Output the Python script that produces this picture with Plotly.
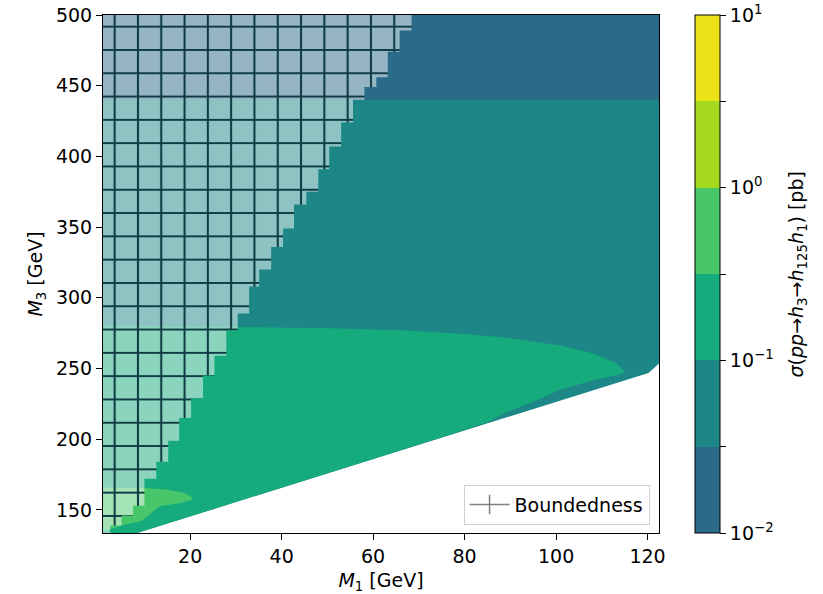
import plotly.graph_objects as go

# Axis extent (GeV)
M1_RANGE = [0.94, 122.5]
M3_RANGE = [133.7, 500.0]

# Cross-section bands in log10(sigma / pb) and their fill colours
band_edges = [-2.0, -1.5, -1.0, -0.5, 0.0, 0.5, 1.0]
band_colors = ["#2a6b8a", "#1d8788", "#16ab7c", "#48c66a", "#a5d91e", "#ebe217"]
cbar_tickvals = [-2.0, -1.5, -1.0, -0.5, 0.0, 0.5, 1.0]
cbar_ticktext = ["10<sup>\u22122</sup>", "", "10<sup>\u22121</sup>", "",
                 "10<sup>0</sup>", "", "10<sup>1</sup>"]

# Kinematic limit of the scan (h3 -> h125 h1 closed below this line)
kin_m1 = [0.0, 8.4, 24.4, 70.3, 120.2, 122.6]
kin_m3 = [125.2, 133.7, 150.0, 196.6, 246.8, 253.8]

# 10^-1.5 pb contour (above: lowest band)
blue_m1 = [0.0, 122.6]
blue_m3 = [440.0, 440.0]

# 10^-1 pb contour: upper edge of the green tongue, then its underside
green_top_m1 = [0.0, 30.0, 50.0, 66.0, 80.0, 90.0, 100.6, 108.1, 113.2, 115.0]
green_top_m3 = [280.5, 279.5, 278.5, 277.0, 274.5, 271.5, 266.5, 260.6, 253.5, 248.0]
green_low_m1 = [114.6, 108.1, 100.6, 96.4, 89.1, 85.0]
green_low_m3 = [246.5, 241.8, 234.7, 228.5, 219.0, 212.0]

# 10^-0.5 pb contour (closed outline of the small low-mass island)
lg_m1 = [0.0, 10.0, 15.1, 18.8, 20.6, 20.3, 18.0, 13.3, 11.5, 9.3, 5.7, 2.4, 0.0]
lg_m3 = [166.0, 165.5, 164.3, 162.0, 158.5, 157.0, 154.9, 152.6, 147.9, 142.1, 139.7, 136.2, 135.0]

# Boundedness-excluded region: largest M1 for each M3 slice of the scan grid
bound_m3_edges = [133.7, 139, 146, 153, 172, 184, 199, 215, 229, 245, 259, 277, 289,
                  308, 320, 336, 349, 366, 375, 391, 407, 424, 440, 449, 456, 474, 489, 500]
bound_m1_max = [2.5, 5.0, 7.5, 10.0, 12.6, 15.2, 17.6, 20.2, 22.8, 25.3, 27.9, 30.4,
                32.9, 35.1, 37.7, 40.3, 42.7, 45.4, 48.0, 50.4, 53.0, 55.6, 58.1,
                60.7, 63.2, 65.8, 68.4]

FONT = "DejaVu Sans"
x_lo, x_hi = 0.0, 122.6
y_top = M3_RANGE[1]

fig = go.Figure()


def add_region(xs, ys, color, **kw):
    fig.add_trace(go.Scatter(x=xs, y=ys, mode="lines", fill="toself",
                             fillcolor=color, line=dict(width=0, color=color),
                             hoverinfo="skip", showlegend=False, **kw))


# Whole allowed region sits in the second band
add_region(kin_m1 + [x_hi, x_lo], kin_m3 + [y_top, y_top], band_colors[1])
# Lowest band above the 10^-1.5 contour
add_region(blue_m1 + [x_hi, x_lo], blue_m3 + [y_top, y_top], band_colors[0])
# Third band: tongue bounded below by the kinematic limit
kin_left = [(m1, m3) for m1, m3 in zip(kin_m1, kin_m3) if m1 < green_low_m1[-1]][::-1]
gx = green_top_m1 + green_low_m1 + [p[0] for p in kin_left]
gy = green_top_m3 + green_low_m3 + [p[1] for p in kin_left]
add_region(gx, gy, band_colors[2])
# Fourth band island
add_region(lg_m1, lg_m3, band_colors[3])

# Staircase outline of the boundedness exclusion
hx, hy = [x_lo], [bound_m3_edges[0]]
for i, m1max in enumerate(bound_m1_max):
    hx += [m1max, m1max]
    hy += [bound_m3_edges[i], bound_m3_edges[i + 1]]
hx += [x_lo]
hy += [bound_m3_edges[-1]]
fig.add_trace(go.Scatter(
    x=hx, y=hy, mode="lines", fill="toself", name="Boundedness",
    line=dict(width=0, color="rgba(0,0,0,0)"),
    fillcolor="rgba(255,255,255,0.5)",
    fillpattern=dict(shape="+", size=23.3, solidity=0.17,
                     fgcolor="#0f3c44", fgopacity=1.0,
                     bgcolor="rgba(255,255,255,0.5)"),
    hoverinfo="skip", showlegend=False, legendgroup="bound"))
# Legend key for the hatched exclusion
fig.add_trace(go.Scatter(
    x=[None], y=[None], mode="lines+markers", name="Boundedness",
    legendgroup="bound", hoverinfo="skip",
    line=dict(color="#808080", width=1.5),
    marker=dict(symbol="line-ns-open", size=14,
                line=dict(color="#808080", width=1.5))))

# Colour bar for the sigma bands
n = len(band_colors)
cscale = []
for i, c in enumerate(band_colors):
    cscale += [[i / n, c], [(i + 1) / n, c]]
fig.add_trace(go.Scatter(
    x=[None], y=[None], mode="markers", showlegend=False, hoverinfo="skip",
    marker=dict(color=[band_edges[0]], colorscale=cscale,
                cmin=band_edges[0], cmax=band_edges[-1], showscale=True,
                colorbar=dict(thickness=25, len=1.0, lenmode="fraction",
                              x=1.0641, xanchor="left", xpad=0,
                              y=0.5, yanchor="middle", ypad=0,
                              outlinecolor="black", outlinewidth=1,
                              tickmode="array", tickvals=cbar_tickvals,
                              ticktext=cbar_ticktext, ticks="outside",
                              ticklen=6, tickcolor="black",
                              tickfont=dict(family=FONT, size=19, color="black")))))

fig.add_annotation(
    text="<i>σ</i>(<i>pp</i>→<i>h</i><sub>3</sub>→<i>h</i><sub>125</sub><i>h</i><sub>1</sub>) [pb]",
    xref="paper", yref="paper", x=1.249, y=0.5, xanchor="center", yanchor="middle",
    textangle=-90, showarrow=False, font=dict(family=FONT, size=19, color="black"))

axis_common = dict(showline=True, linecolor="black", linewidth=1, mirror=True,
                   ticks="outside", ticklen=6, tickcolor="black",
                   showgrid=False, zeroline=False, automargin=False,
                   tickfont=dict(family=FONT, size=19, color="black"))
fig.update_xaxes(range=M1_RANGE, tick0=20, dtick=20,
                 title=dict(text="<i>M</i><sub>1</sub> [GeV]", standoff=16,
                            font=dict(family=FONT, size=19, color="black")),
                 **axis_common)
fig.update_yaxes(range=M3_RANGE, tick0=150, dtick=50,
                 title=dict(text="<i>M</i><sub>3</sub> [GeV]", standoff=8,
                            font=dict(family=FONT, size=19, color="black")),
                 **axis_common)

fig.update_layout(
    width=823, height=594,
    margin=dict(l=103, r=164, t=15, b=61, autoexpand=False),
    plot_bgcolor="white", paper_bgcolor="white",
    legend=dict(x=0.983, y=0.016, xanchor="right", yanchor="bottom",
                bgcolor="rgba(255,255,255,0.8)", bordercolor="#d0d0d0",
                borderwidth=1, itemwidth=40,
                font=dict(family=FONT, size=19, color="black")),
)

fig.write_html("out.html")
